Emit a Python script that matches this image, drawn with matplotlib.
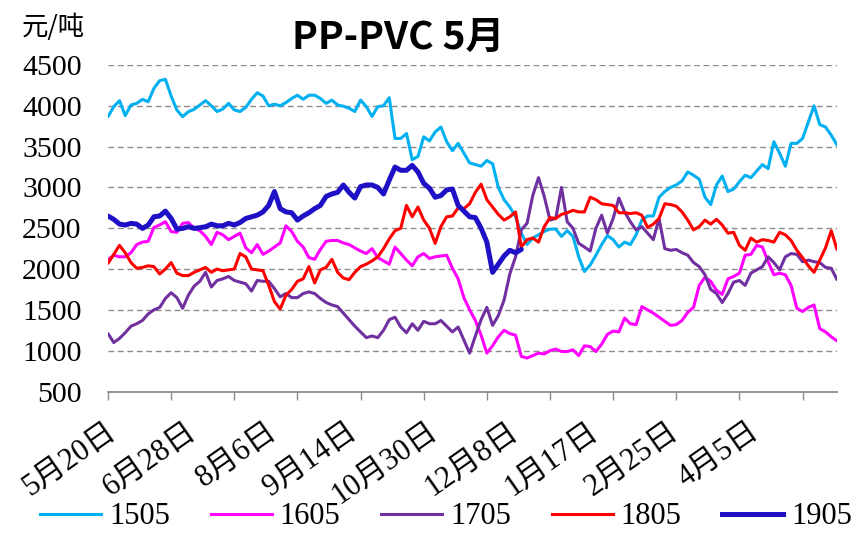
import numpy as np
import matplotlib
matplotlib.use("Agg")
import matplotlib.pyplot as plt
from matplotlib.lines import Line2D
from matplotlib.transforms import ScaledTranslation

# PP minus PVC spread for the May contracts, one sample every second trading day
date_labels = ["5月20日", "6月28日", "8月6日", "9月14日", "10月30日",
               "12月8日", "1月17日", "2月25日", "4月5日"]
series_names = ["1505", "1605", "1705", "1805", "1905"]

spread_1505 = [
    3867, 3989, 4063, 3880, 4010, 4030, 4079, 4050, 4214, 4308, 4324, 4120, 3948, 3867, 3928, 3957, 4010, 4063,
    4000, 3930, 3960, 4030, 3950, 3930, 3980, 4080, 4160, 4120, 4000, 4020, 4000, 4040, 4090, 4130, 4080, 4130,
    4130, 4090, 4030, 4070, 4010, 3995, 3970, 3930, 4070, 3990, 3870, 3990, 4000, 4100, 3600, 3600, 3660, 3340,
    3380, 3620, 3570, 3680, 3740, 3560, 3450, 3540, 3420, 3300, 3280, 3260, 3330, 3290, 3000, 2850, 2760, 2640,
    2440, 2300, 2380, 2420, 2460, 2490, 2490, 2400, 2470, 2400, 2150, 1970, 2050, 2170, 2300, 2410, 2360, 2270, 2330,
    2300, 2420, 2600, 2650, 2650, 2880, 2950, 3000, 3030, 3080, 3190, 3150, 3100, 2880, 2790, 3030, 3140, 2950,
    2980, 3070, 3150, 3120, 3200, 3280, 3230, 3560, 3420, 3260, 3540, 3540, 3600, 3800, 4000, 3770, 3740, 3640, 3520,
]
spread_1605 = [
    2110, 2170, 2150, 2150, 2200, 2300, 2330, 2340, 2510, 2540, 2580, 2460, 2450, 2560, 2570, 2500, 2470, 2400,
    2300, 2450, 2420, 2360, 2400, 2440, 2260, 2200, 2300, 2180, 2220, 2270, 2320, 2530, 2460, 2340, 2270, 2140,
    2120, 2240, 2340, 2350, 2350, 2320, 2300, 2260, 2220, 2190, 2250, 2140, 2100, 2060, 2270, 2190, 2110, 2040,
    2150, 2190, 2130, 2150, 2160, 2170, 2010, 1880, 1650, 1500, 1370, 1190, 970, 1060, 1170, 1250, 1210, 1190,
    930, 910, 940, 970, 960, 1000, 1020, 990, 990, 1010, 940, 1060, 1050, 990, 1080, 1200, 1240, 1230, 1400,
    1330, 1320, 1540, 1500, 1460, 1410, 1360, 1310, 1320, 1370, 1470, 1530, 1800, 1900, 1850, 1740, 1690, 1880,
    1910, 1950, 2170, 2180, 2290, 2270, 2090, 1930, 1950, 1930, 1800, 1520, 1480, 1530, 1560, 1270, 1230, 1170, 1120,
]
spread_1705 = [
    1210, 1100, 1150, 1220, 1300, 1330, 1370, 1450, 1500, 1530, 1640, 1710, 1650, 1520, 1680, 1790, 1850, 1960,
    1780, 1860, 1880, 1910, 1860, 1840, 1820, 1730, 1860, 1850, 1850, 1760, 1660, 1700, 1650, 1650, 1700, 1720,
    1700, 1640, 1590, 1560, 1540, 1460, 1380, 1300, 1230, 1160, 1180, 1160, 1250, 1380, 1410, 1290, 1220, 1330,
    1250, 1360, 1330, 1330, 1370, 1300, 1230, 1290, 1130, 970, 1180, 1380, 1530, 1310, 1430, 1620, 1940, 2150,
    2480, 2560, 2900, 3120, 2890, 2600, 2620, 3000, 2580, 2500, 2315, 2270, 2220, 2500, 2660, 2440, 2620, 2870, 2700,
    2580, 2480, 2520, 2440, 2360, 2620, 2250, 2230, 2240, 2200, 2170, 2080, 2030, 1930, 1750, 1700, 1590, 1700,
    1840, 1860, 1800, 1950, 1990, 2030, 2150, 2080, 1990, 2150, 2190, 2180, 2090, 2110, 2090, 2080, 2020, 2010, 1870,
]
spread_1805 = [
    2070, 2180, 2290, 2200, 2080, 2010, 2020, 2040, 2030, 1940, 2000, 2080, 1950, 1920, 1920, 1960, 1990, 2020,
    1960, 2000, 1980, 1990, 2000, 2190, 2150, 2000, 1990, 1980, 1800, 1600, 1510, 1680, 1750, 1850, 1880, 2030,
    1830, 1990, 2020, 2120, 1960, 1890, 1870, 1960, 2030, 2060, 2100, 2150, 2250, 2370, 2470, 2500, 2780, 2640,
    2760, 2600, 2500, 2315, 2520, 2640, 2650, 2750, 2740, 2800, 2940, 3040, 2850, 2760, 2670, 2600, 2640, 2700,
    2270, 2360, 2380, 2330, 2520, 2630, 2620, 2670, 2690, 2720, 2700, 2700, 2880, 2850, 2800, 2790, 2780, 2690, 2690,
    2680, 2690, 2660, 2510, 2550, 2620, 2800, 2790, 2770, 2700, 2600, 2480, 2520, 2600, 2550, 2610, 2540, 2440,
    2450, 2290, 2230, 2380, 2330, 2360, 2350, 2330, 2450, 2420, 2350, 2230, 2140, 2040, 1960, 2110, 2260, 2470, 2240,
]
spread_1905 = [
    2650, 2609, 2551, 2539, 2560, 2551, 2498, 2539, 2641, 2650, 2710, 2620, 2490, 2498, 2519, 2498, 2507, 2519,
    2550, 2530, 2530, 2560, 2540, 2570, 2620, 2640, 2660, 2700, 2780, 2950, 2740, 2700, 2690, 2600, 2650, 2690,
    2740, 2780, 2890, 2920, 2940, 3030, 2940, 2870, 3010, 3030, 3030, 3000, 2920, 3090, 3250, 3210, 3210, 3270,
    3190, 3050, 2990, 2880, 2900, 2970, 2980, 2780, 2710, 2640, 2630, 2500, 2330, 1960, 2060, 2160, 2230, 2200, 2240,
]
series_values = [spread_1505, spread_1605, spread_1705, spread_1805, spread_1905]

line_colors = ["#00B0F0", "#FF00FF", "#7030A0", "#FF0000", "#1E10C4"]
line_widths = [2.2, 2.2, 2.2, 2.2, 3.6]

STEP = 2          # trading days between samples
TICK_EVERY = 22   # trading days between axis tick marks
LABEL_EVERY = 28  # trading days between date labels

serif = ["Liberation Serif", "Noto Sans CJK SC"]
grey = "#8c8c8c"

W, H = 861, 533
fig = plt.figure(figsize=(W / 100, H / 100), dpi=100)
ax = fig.add_axes([108 / W, 1 - 391.5 / H, (837 - 108) / W, (391.5 - 65) / H])

for vals, col, lw in zip(series_values, line_colors, line_widths):
    x = np.arange(len(vals)) * STEP
    ax.plot(x, vals, color=col, lw=lw, solid_joinstyle="round", solid_capstyle="round")

ax.set_xlim(0, 254)
ax.set_ylim(500, 4500)
ax.set_yticks(np.arange(500, 4501, 500))
ax.yaxis.grid(True, linestyle=(0, (4.2, 2.6)), color=grey, lw=1.0)
ax.set_axisbelow(True)

for s in ("left", "right", "top"):
    ax.spines[s].set_visible(False)
ax.spines["bottom"].set_color(grey)
ax.spines["bottom"].set_linewidth(1.3)

ax.tick_params(axis="y", length=0, pad=19)
for lab in ax.get_yticklabels():
    lab.set_fontfamily(serif)
    lab.set_fontsize(21.5)

ax.set_xticks(np.arange(0, 243, TICK_EVERY))
ax.set_xticklabels([])
ax.tick_params(axis="x", direction="out", length=6, width=1.0, color=grey)

offset = ScaledTranslation(0.05, -0.37, fig.dpi_scale_trans)
for i, lab in enumerate(date_labels):
    ax.text(i * LABEL_EVERY, 0, lab, transform=ax.get_xaxis_transform() + offset,
            rotation=35, ha="right", va="center", rotation_mode="anchor",
            fontsize=22, family=serif, clip_on=False)

fig.text(398 / W, 1 - 37 / H, "PP-PVC 5月", ha="center", va="center",
         fontsize=28, fontweight="bold", family=["Noto Sans CJK SC"])
fig.text(22 / W, 1 - 27 / H, "元/吨", ha="left", va="center",
         fontsize=19, family=["Noto Sans CJK SC"])

handles = [Line2D([], [], color=c, lw=w) for c, w in zip(line_colors, line_widths)]
fig.legend(handles, series_names, loc="center", bbox_to_anchor=(446 / W, 1 - 517 / H),
           ncol=5, frameon=False, prop={"family": serif, "size": 22},
           handlelength=2.0, handletextpad=0.26, columnspacing=1.33, borderaxespad=0)

fig.savefig("out.png", dpi=100)
